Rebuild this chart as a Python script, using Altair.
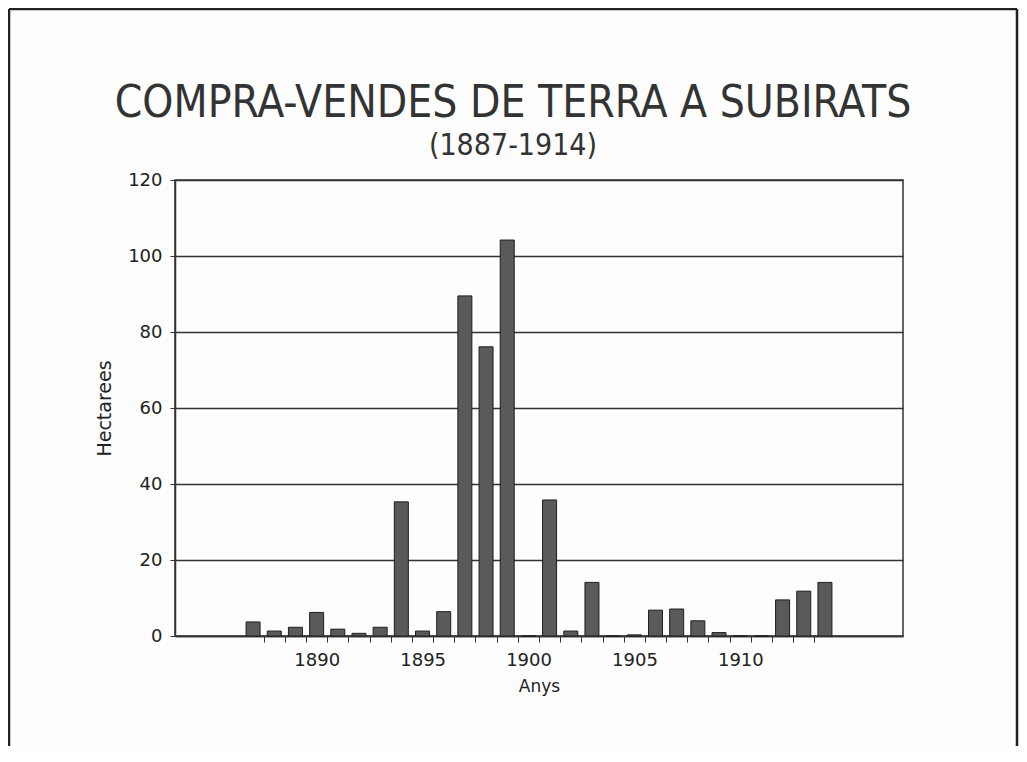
import altair as alt
import pandas as pd

years = list(range(1887, 1915))
hectares = [3.7, 1.3, 2.3, 6.2, 1.8, 0.7, 2.3, 35.3, 1.3, 6.4, 89.5, 76.1, 104.2, 0,
            35.8, 1.3, 14.1, 0, 0.3, 6.8, 7.1, 4.0, 0.9, 0, 0, 9.5, 11.8, 14.1]
y_ticks = [0, 20, 40, 60, 80, 100, 120]
x_tick_values = [y + 0.5 for y in years[:-1]]
title_text = "COMPRA-VENDES DE TERRA A SUBIRATS"
subtitle_text = "(1887-1914)"

df = pd.DataFrame({"Any": years, "Hectarees": hectares})

label_font = "DejaVu Sans"
title_font = "Liberation Sans Narrow, DejaVu Sans Condensed"
ink = "#333333"

bars = alt.Chart(df).mark_bar(size=14, fill="#5a5a5a", stroke="#1e1e1e", strokeWidth=1).encode(
    x=alt.X("Any:Q",
            scale=alt.Scale(domain=[1883.55, 1917.45], nice=False, zero=False),
            axis=alt.Axis(values=x_tick_values,
                          labelExpr="(datum.value - 0.5) % 5 == 4 ? toString(datum.value + 0.5) : ''",
                          labelOffset=10.75, labelOverlap=False, labelFlush=False,
                          tickSize=6, tickColor=ink, domainColor=ink, domainWidth=1.5,
                          labelFont=label_font, labelFontSize=18, labelColor="#222",
                          labelPadding=9, grid=False,
                          title="Anys", titleFont=label_font, titleFontSize=17,
                          titleFontWeight="normal", titleColor="#222", titlePadding=9)),
    y=alt.Y("Hectarees:Q",
            scale=alt.Scale(domain=[0, 120], nice=False),
            axis=alt.Axis(values=y_ticks, grid=True, gridColor=ink, gridWidth=1.6, gridOpacity=1,
                          tickSize=5, tickColor=ink, domainColor=ink, domainWidth=1.5,
                          labelFont=label_font, labelFontSize=18, labelColor="#222",
                          labelPadding=8,
                          title="Hectarees", titleFont=label_font, titleFontSize=19,
                          titleFontWeight="normal", titleColor="#222", titlePadding=13)),
)

one = alt.Data(values=[{}])
frame_left = alt.Chart(one).mark_rule(stroke="#222", strokeWidth=2.5, clip=False).encode(
    x=alt.value(-166), y=alt.value(-171), y2=alt.value(700))
frame_top = alt.Chart(one).mark_rule(stroke="#222", strokeWidth=2.5, clip=False).encode(
    x=alt.value(-166), x2=alt.value(842), y=alt.value(-171))
frame_right = alt.Chart(one).mark_rule(stroke="#222", strokeWidth=2.5, clip=False).encode(
    x=alt.value(842), y=alt.value(-171), y2=alt.value(700))

title = alt.Chart(one).mark_text(
    text=title_text, font=title_font, fontSize=44, color="#333",
    align="center", baseline="alphabetic", clip=False
).encode(x=alt.value(338), y=alt.value(-63))
subtitle = alt.Chart(one).mark_text(
    text=subtitle_text, font=title_font, fontSize=30, color="#333",
    align="center", baseline="alphabetic", clip=False
).encode(x=alt.value(338), y=alt.value(-25))

chart = alt.layer(bars, frame_left, frame_top, frame_right, title, subtitle).properties(
    width=728, height=456,
    autosize=alt.AutoSizeParams(type="none"),
    padding={"left": 167, "top": 172, "right": 116, "bottom": 110},
    background="#fdfdfd",
).configure_view(stroke=ink, strokeWidth=1.5)

chart.save("out.html", embed_options={"renderer": "svg", "actions": False})
